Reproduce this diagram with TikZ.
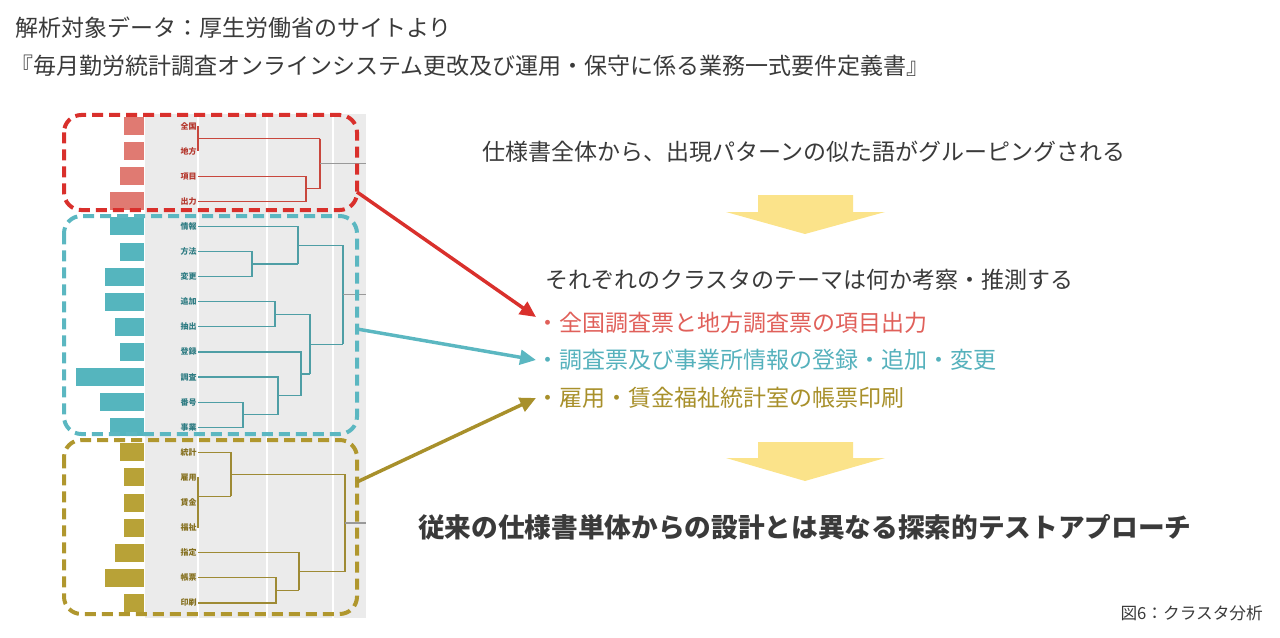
\documentclass[tikz,border=0pt]{standalone}
\usepackage{fontspec}
\setmainfont{Noto Sans CJK JP}
\usetikzlibrary{arrows.meta}

\definecolor{ink}{HTML}{3A3A3A}
\definecolor{panel}{HTML}{EBEBEB}
\definecolor{stem}{HTML}{999999}
\definecolor{redbox}{HTML}{D9302C}
\definecolor{redbar}{HTML}{E07A72}
\definecolor{redline}{HTML}{C8473D}
\definecolor{redlab}{HTML}{B5382E}
\definecolor{redtext}{HTML}{E0605A}
\definecolor{tealbox}{HTML}{5BB7C1}
\definecolor{tealbar}{HTML}{55B5BE}
\definecolor{tealline}{HTML}{4E9EA5}
\definecolor{teallab}{HTML}{2F7C83}
\definecolor{tealtext}{HTML}{55B1BC}
\definecolor{olivebox}{HTML}{B0972E}
\definecolor{olivebar}{HTML}{B8A237}
\definecolor{oliveline}{HTML}{9E8A34}
\definecolor{olivelab}{HTML}{85701F}
\definecolor{olivetext}{HTML}{A8902B}
\definecolor{downfill}{HTML}{FBE38A}

\begin{document}
\begin{tikzpicture}[x=.75pt,y=-.75pt,
  txt/.style={anchor=west,inner sep=0pt,text=ink,font=\fontsize{17.25}{20}\selectfont},
  lbl/.style={anchor=east,inner sep=0pt,font=\fontsize{6}{7}\selectfont\bfseries},
  grp/.style={line width=3pt,dash pattern=on 8.25pt off 4.5pt,rounded corners=13pt},
  tree/.style={line width=.9pt},
  link/.style={line width=2.6pt,-{Triangle[length=12pt,width=11pt]}},
  down/.style={fill=downfill}]
  \useasboundingbox (0,0) rectangle (1280,638);

  % plot panel
  \fill[panel] (145,114) rectangle (366,618);
  \foreach \x in {198,267,333} \draw[white,line width=.8pt] (\x,114) -- (\x,618);

  % bars and words
  \foreach \i/\l/\w/\col in {0/124/全国/red,1/124/地方/red,2/120/項目/red,3/110/出力/red,
      4/110/情報/teal,5/120/方法/teal,6/105/変更/teal,7/105/追加/teal,8/115/抽出/teal,
      9/120/登録/teal,10/76/調査/teal,11/100/番号/teal,12/110/事業/teal,
      13/120/統計/olive,14/124/雇用/olive,15/124/賃金/olive,16/124/福祉/olive,
      17/115/指定/olive,18/105/帳票/olive,19/124/印刷/olive}{
    \fill[fill=\col bar] (\l,{126+25.1*\i-9}) rectangle (144,{126+25.1*\i+9});
    \node[lbl,text=\col lab] (w\i) at (197,{126+25.1*\i}) {\w};
  }

  % dendrogram
  \draw[tree,redline] (198,126) -- (198,151.1) (198,138.6) -- (320,138.6)
    (198,176.2) -- (306,176.2) -- (306,201.3) -- (198,201.3) (306,188.8) -- (320,188.8)
    (320,138.6) -- (320,188.8);
  \draw[tree,tealline] (198,226.4) -- (298,226.4)
    (198,251.5) -- (252,251.5) -- (252,276.6) -- (198,276.6) (252,264) -- (298,264)
    (298,226.4) -- (298,264) (298,245.2) -- (343,245.2)
    (198,301.7) -- (275,301.7) -- (275,326.8) -- (198,326.8) (275,314.3) -- (310,314.3)
    (198,402.1) -- (243,402.1) -- (243,427.2) -- (198,427.2) (243,414.6) -- (278,414.6)
    (198,377) -- (278,377) -- (278,414.6) (278,395.8) -- (301,395.8)
    (198,351.9) -- (301,351.9) -- (301,395.8) (301,373.9) -- (310,373.9)
    (310,314.3) -- (310,373.9) (310,344.1) -- (343,344.1)
    (343,245.2) -- (343,344.1);
  \draw[tree,oliveline] (198,452.3) -- (231,452.3)
    (198,477.4) -- (198,527.6) (198,496.2) -- (231,496.2)
    (231,452.3) -- (231,496.2) (231,474.3) -- (345,474.3)
    (198,577.8) -- (276,577.8) -- (276,602.9) -- (198,602.9) (276,590.3) -- (299,590.3)
    (198,552.7) -- (299,552.7) -- (299,590.3) (299,571.5) -- (345,571.5)
    (345,474.3) -- (345,571.5);
  \draw[tree,stem] (320,163.7) -- (366,163.7) (343,294.6) -- (366,294.6)
    (345,522.9) -- (366,522.9);

  % cluster frames
  \draw[grp,redbox] (64,115) rectangle (357,210);
  \draw[grp,tealbox] (64,216) rectangle (357,434);
  \draw[grp,olivebox] (64,440) rectangle (357,614);
  \coordinate (redout) at (357,192);
  \coordinate (tealout) at (357,329);
  \coordinate (oliveout) at (357,482);

  % texts
  \node[txt] (title1) at (15,28) {解析対象データ：厚生労働省のサイトより};
  \node[txt] (title2) at (10,66) {『毎月勤労統計調査オンラインシステム更改及び運用・保守に係る業務一式要件定義書』};
  \node[txt] (lead) at (482,152) {仕様書全体から、出現パターンの似た語がグルーピングされる};
  \node[txt] (theme) at (545,280) {それぞれのクラスタのテーマは何か考察・推測する};
  \node[txt,text=redtext] (item1) at (536,323) {・全国調査票と地方調査票の項目出力};
  \node[txt,text=tealtext] (item2) at (536,360) {・調査票及び事業所情報の登録・追加・変更};
  \node[txt,text=olivetext] (item3) at (536,398) {・雇用・賃金福祉統計室の帳票印刷};
  \node[txt,font=\fontsize{20}{24}\selectfont\bfseries] (result) at (418,527) {従来の仕様書単体からの設計とは異なる探索的テストアプローチ};
  \node[txt,anchor=east,font=\fontsize{12.5}{15}\selectfont] (caption) at (1263,613) {図6：クラスタ分析};

  % block arrows
  \fill[down] (758,195) -- (853,195) -- (853,212) -- (885,212) -- (805,234) -- (726,212) -- (758,212) -- cycle;
  \fill[down] (758,442) -- (853,442) -- (853,458) -- (885,458) -- (805,481) -- (726,458) -- (758,458) -- cycle;

  % links
  \draw[link,redbox] (redout) -- ([yshift=4.5pt]item1.west);
  \draw[link,tealbox] (tealout) -- (item2.west);
  \draw[link,olivetext] (oliveout) -- (item3.west);
\end{tikzpicture}
\end{document}
